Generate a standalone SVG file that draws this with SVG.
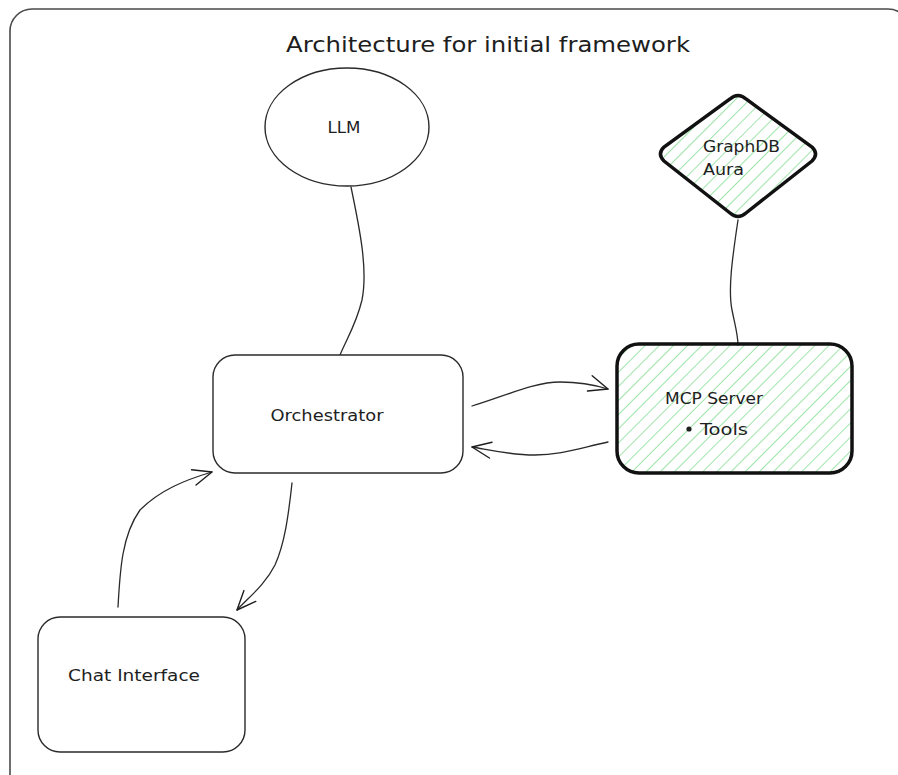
<svg xmlns="http://www.w3.org/2000/svg" width="898" height="775" viewBox="0 0 898 775">
  <defs>
    <pattern id="hatch" patternUnits="userSpaceOnUse" width="10" height="10" patternTransform="rotate(45)">
      <line x1="0" y1="0" x2="0" y2="10" stroke="#9ee4aa" stroke-width="2"/>
    </pattern>
    <marker id="arrow" viewBox="0 0 24 24" refX="22" refY="12" markerWidth="24" markerHeight="24" markerUnits="userSpaceOnUse" orient="auto">
      <path d="M3,4 L22,12 L3,20" fill="none" stroke="#1e1e1e" stroke-width="1.4" stroke-linecap="round" stroke-linejoin="round"/>
    </marker>
    <style>
      .lbl { font-family: "DejaVu Sans", "Liberation Sans", sans-serif; fill: #1e1e1e; }
      .thin { fill: #ffffff; stroke: #2a2a2a; stroke-width: 1.4; }
      .thick { fill: url(#hatch); stroke: #111111; stroke-width: 3.5; }
      .edge { fill: none; stroke: #2a2a2a; stroke-width: 1.3; stroke-linecap: round; }
    </style>
  </defs>

  <rect width="898" height="775" fill="#ffffff"/>

  <!-- outer frame -->
  <g id="frame">
    <rect x="10" y="9" width="900" height="790" rx="22" fill="none" stroke="#4a4a4a" stroke-width="1.6"/>
    <text class="lbl" x="488" y="52" font-size="21" text-anchor="middle" textLength="404" lengthAdjust="spacingAndGlyphs">Architecture for initial framework</text>
  </g>

  <!-- connectors -->
  <g id="connectors">
    <path class="edge" d="M351,187 C360,230 368,270 362,300 C356,325 346,340 340,355"/>
    <path class="edge" d="M738,220 C732,260 728,290 732,310 C735,325 738,335 738,345"/>
    <path class="edge" marker-end="url(#arrow)" d="M472,406 C505,396 535,382 560,382 C580,382 595,385 608,389"/>
    <path class="edge" marker-end="url(#arrow)" d="M608,442 C580,448 560,455 535,455 C510,455 490,450 472,447"/>
    <path class="edge" marker-end="url(#arrow)" d="M118,607 C120,570 122,535 140,510 C160,490 185,480 212,472"/>
    <path class="edge" marker-end="url(#arrow)" d="M292,483 C288,520 284,545 275,565 C265,585 248,598 237,610"/>
  </g>

  <g id="llm">
    <ellipse class="thin" cx="347" cy="127" rx="82" ry="59"/>
    <text class="lbl" x="344" y="133" font-size="16" text-anchor="middle" textLength="33" lengthAdjust="spacingAndGlyphs">LLM</text>
  </g>

  <g id="orchestrator">
    <rect class="thin" x="213" y="355" width="250" height="118" rx="22"/>
    <text class="lbl" x="327" y="421" font-size="15" text-anchor="middle" textLength="113" lengthAdjust="spacingAndGlyphs">Orchestrator</text>
  </g>

  <g id="graphdb">
    <path class="thick" d="M730,99 Q738,92 746,99 L812,147 Q819,154 812,161 L746,213 Q738,220 730,213 L664,161 Q657,154 664,147 Z"/>
    <text class="lbl" x="703" y="152" font-size="15" textLength="77" lengthAdjust="spacingAndGlyphs">GraphDB</text>
    <text class="lbl" x="703" y="175" font-size="15" textLength="41" lengthAdjust="spacingAndGlyphs">Aura</text>
  </g>

  <g id="mcp-server">
    <rect class="thick" x="617" y="344" width="235" height="129" rx="22"/>
    <text class="lbl" x="665" y="404" font-size="15" textLength="98" lengthAdjust="spacingAndGlyphs">MCP Server</text>
    <circle cx="689" cy="429" r="2.6" fill="#1e1e1e"/>
    <text class="lbl" x="700" y="435" font-size="16" textLength="48" lengthAdjust="spacingAndGlyphs">Tools</text>
  </g>

  <g id="chat-interface">
    <rect class="thin" x="38" y="617" width="207" height="135" rx="22"/>
    <text class="lbl" x="134" y="681" font-size="15" text-anchor="middle" textLength="132" lengthAdjust="spacingAndGlyphs">Chat Interface</text>
  </g>
</svg>
